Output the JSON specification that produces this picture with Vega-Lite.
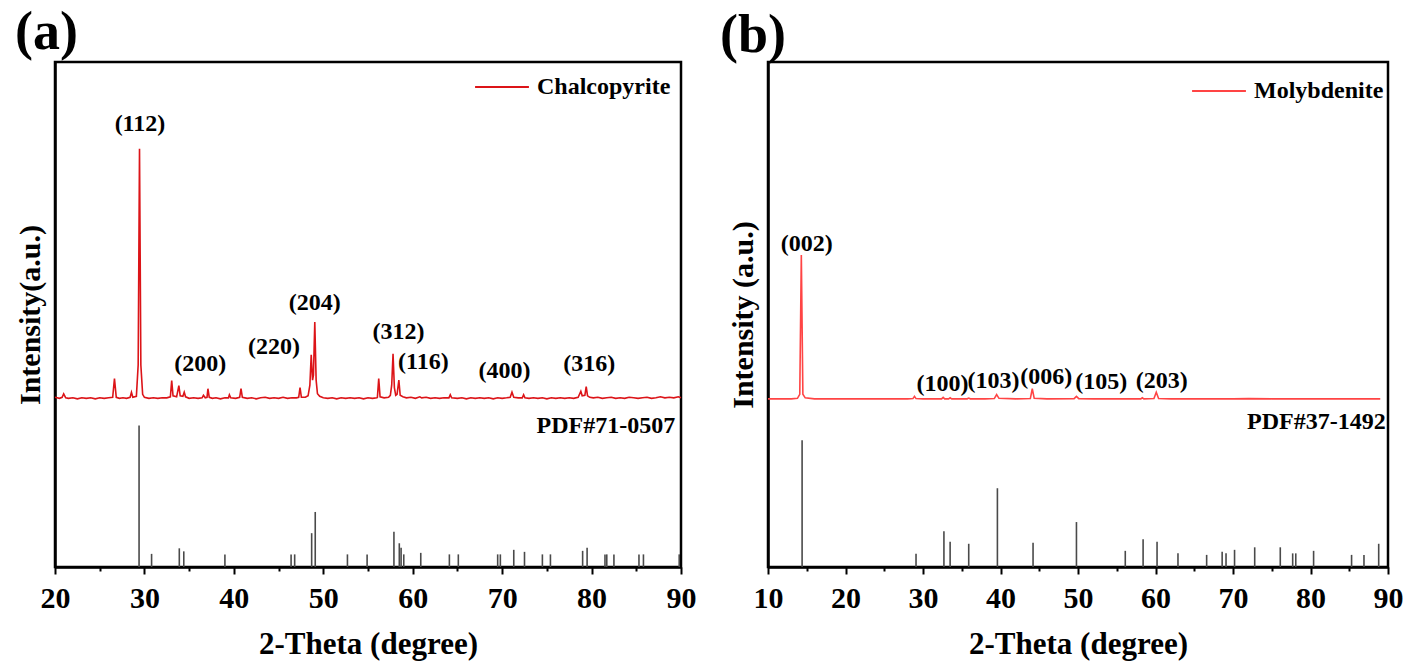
{
  "$schema": "https://vega.github.io/schema/vega-lite/v6.json",
  "padding": {"left": 13, "top": 4, "right": 0, "bottom": 0},
  "datasets": {
    "xrdA": [
      {"t":20.0,"i":33.6},{"t":20.5,"i":33.4},{"t":20.8,"i":33.6},{"t":20.97,"i":34.3},{"t":21.2,"i":33.5},{"t":21.5,"i":33.4},
      {"t":22.0,"i":33.5},{"t":22.5,"i":33.3},{"t":23.0,"i":33.5},{"t":23.5,"i":33.4},{"t":24.0,"i":33.5},{"t":24.5,"i":33.3},
      {"t":25.0,"i":33.5},{"t":25.5,"i":33.4},{"t":26.0,"i":33.5},{"t":26.45,"i":33.6},{"t":26.65,"i":37.3},{"t":26.85,"i":33.6},
      {"t":27.2,"i":33.4},{"t":27.6,"i":33.5},{"t":28.0,"i":33.4},{"t":28.4,"i":33.6},{"t":28.55,"i":34.6},{"t":28.7,"i":33.6},
      {"t":29.1,"i":33.8},{"t":29.3,"i":40.0},{"t":29.45,"i":82.8},{"t":29.6,"i":40.0},{"t":29.8,"i":34.2},{"t":30.0,"i":33.6},
      {"t":30.5,"i":33.4},{"t":31.0,"i":33.5},{"t":31.5,"i":33.4},{"t":32.0,"i":33.5},{"t":32.5,"i":33.5},{"t":32.9,"i":33.7},
      {"t":33.05,"i":36.9},{"t":33.2,"i":33.9},{"t":33.6,"i":33.7},{"t":33.85,"i":35.9},{"t":34.0,"i":33.9},{"t":34.3,"i":33.8},
      {"t":34.45,"i":34.6},{"t":34.6,"i":33.7},{"t":35.0,"i":33.4},{"t":35.5,"i":33.5},{"t":36.0,"i":33.4},{"t":36.45,"i":33.5},
      {"t":36.6,"i":34.0},{"t":36.8,"i":33.5},{"t":37.0,"i":33.6},{"t":37.1,"i":35.3},{"t":37.25,"i":33.6},{"t":37.6,"i":33.4},
      {"t":38.0,"i":33.5},{"t":38.5,"i":33.3},{"t":39.0,"i":33.5},{"t":39.4,"i":33.5},{"t":39.5,"i":34.1},{"t":39.65,"i":33.5},
      {"t":40.2,"i":33.4},{"t":40.65,"i":33.6},{"t":40.8,"i":35.3},{"t":40.95,"i":33.6},{"t":41.5,"i":33.4},{"t":42.0,"i":33.5},
      {"t":42.5,"i":33.3},{"t":43.0,"i":33.5},{"t":43.5,"i":33.6},{"t":44.0,"i":33.4},{"t":44.5,"i":33.5},{"t":45.0,"i":33.4},
      {"t":45.5,"i":33.6},{"t":46.0,"i":33.4},{"t":46.5,"i":33.5},{"t":47.0,"i":33.5},{"t":47.25,"i":33.6},{"t":47.4,"i":35.5},
      {"t":47.55,"i":33.6},{"t":48.0,"i":33.6},{"t":48.3,"i":33.9},{"t":48.5,"i":36.0},{"t":48.65,"i":42.0},{"t":48.8,"i":37.0},
      {"t":48.9,"i":38.0},{"t":49.05,"i":48.5},{"t":49.2,"i":37.0},{"t":49.35,"i":34.3},{"t":49.6,"i":33.8},{"t":50.0,"i":33.5},
      {"t":50.5,"i":33.4},{"t":51.0,"i":33.5},{"t":51.5,"i":33.3},{"t":52.0,"i":33.5},{"t":52.5,"i":33.4},{"t":53.0,"i":33.5},
      {"t":53.5,"i":33.4},{"t":54.0,"i":33.5},{"t":54.5,"i":33.3},{"t":55.0,"i":33.5},{"t":55.5,"i":33.4},{"t":56.0,"i":33.5},
      {"t":56.05,"i":33.6},{"t":56.2,"i":37.3},{"t":56.35,"i":33.7},{"t":56.8,"i":33.5},{"t":57.3,"i":33.6},{"t":57.5,"i":34.0},
      {"t":57.65,"i":36.0},{"t":57.8,"i":42.2},{"t":57.95,"i":35.5},{"t":58.1,"i":34.0},{"t":58.25,"i":34.2},{"t":58.45,"i":37.0},
      {"t":58.6,"i":34.0},{"t":58.9,"i":33.7},{"t":59.3,"i":33.5},{"t":59.8,"i":33.6},{"t":60.3,"i":33.4},{"t":60.8,"i":33.7},
      {"t":61.0,"i":33.5},{"t":61.5,"i":33.6},{"t":62.0,"i":33.4},{"t":62.5,"i":33.5},{"t":63.0,"i":33.4},{"t":63.5,"i":33.5},
      {"t":64.05,"i":33.5},{"t":64.2,"i":34.1},{"t":64.35,"i":33.5},{"t":65.0,"i":33.4},{"t":65.5,"i":33.5},{"t":66.0,"i":33.3},
      {"t":66.5,"i":33.5},{"t":67.0,"i":33.4},{"t":67.5,"i":33.5},{"t":68.0,"i":33.4},{"t":68.5,"i":33.5},{"t":69.0,"i":33.3},
      {"t":69.5,"i":33.5},{"t":70.0,"i":33.4},{"t":70.5,"i":33.5},{"t":70.9,"i":33.6},{"t":71.1,"i":34.6},{"t":71.3,"i":33.6},
      {"t":71.8,"i":33.5},{"t":72.25,"i":33.5},{"t":72.4,"i":34.1},{"t":72.55,"i":33.5},{"t":73.0,"i":33.4},{"t":73.5,"i":33.5},
      {"t":74.0,"i":33.4},{"t":74.5,"i":33.5},{"t":75.0,"i":33.3},{"t":75.5,"i":33.5},{"t":76.0,"i":33.4},{"t":76.5,"i":33.5},
      {"t":77.0,"i":33.4},{"t":77.5,"i":33.5},{"t":78.0,"i":33.4},{"t":78.5,"i":33.6},{"t":78.8,"i":34.8},{"t":78.95,"i":33.9},
      {"t":79.25,"i":34.0},{"t":79.4,"i":35.7},{"t":79.55,"i":33.9},{"t":79.8,"i":33.6},{"t":80.2,"i":33.5},{"t":80.7,"i":33.6},
      {"t":81.2,"i":33.4},{"t":81.7,"i":33.5},{"t":82.2,"i":33.6},{"t":82.7,"i":33.4},{"t":83.2,"i":33.5},{"t":83.7,"i":33.4},
      {"t":84.2,"i":33.6},{"t":84.7,"i":33.5},{"t":85.2,"i":33.4},{"t":85.7,"i":33.5},{"t":86.2,"i":33.6},{"t":86.7,"i":33.4},
      {"t":87.2,"i":33.5},{"t":87.7,"i":33.7},{"t":88.2,"i":33.5},{"t":88.7,"i":33.6},{"t":89.2,"i":33.5},{"t":89.7,"i":33.7},
      {"t":90.0,"i":33.5}
    ],
    "refA": [
      {"t":29.4,"h":28.0},{"t":30.8,"h":2.6},{"t":33.9,"h":3.7},{"t":34.4,"h":3.1},{"t":39.0,"h":2.5},{"t":46.4,"h":2.5},
      {"t":46.8,"h":2.5},{"t":48.7,"h":6.7},{"t":49.1,"h":10.9},{"t":52.7,"h":2.5},{"t":54.9,"h":2.5},{"t":57.9,"h":7.0},
      {"t":58.5,"h":4.7},{"t":58.7,"h":3.8},{"t":59.0,"h":2.5},{"t":60.9,"h":2.8},{"t":64.1,"h":2.5},{"t":65.1,"h":2.5},
      {"t":69.5,"h":2.5},{"t":69.8,"h":2.5},{"t":71.3,"h":3.4},{"t":72.5,"h":3.0},{"t":74.5,"h":2.5},{"t":75.4,"h":2.5},
      {"t":79.0,"h":3.2},{"t":79.5,"h":3.8},{"t":81.5,"h":2.5},{"t":81.7,"h":2.5},{"t":82.5,"h":2.5},{"t":85.3,"h":2.5},
      {"t":85.8,"h":2.5},{"t":89.8,"h":2.5}
    ],
    "labA": [
      {"t":29.5,"i":87.7,"label":"(112)"},{"t":36.25,"i":40.2,"label":"(200)"},{"t":44.5,"i":43.6,"label":"(220)"},
      {"t":49.05,"i":52.3,"label":"(204)"},{"t":58.4,"i":46.5,"label":"(312)"},{"t":61.2,"i":40.5,"label":"(116)"},
      {"t":70.25,"i":38.8,"label":"(400)"},{"t":79.75,"i":40.2,"label":"(316)"}
    ],
    "pdfA": [{"t":89.35,"i":27.9,"label":"PDF#71-0507"}],
    "xrdB": [
      {"t":10,"i":33.3},{"t":11,"i":33.3},{"t":12,"i":33.3},{"t":13,"i":33.3},{"t":13.8,"i":33.4},{"t":14.1,"i":34.2},
      {"t":14.3,"i":61.8},{"t":14.5,"i":34.2},{"t":14.8,"i":33.5},{"t":16,"i":33.3},{"t":18,"i":33.3},{"t":20,"i":33.3},
      {"t":22,"i":33.3},{"t":24,"i":33.3},{"t":26,"i":33.3},{"t":28,"i":33.3},{"t":28.7,"i":33.35},{"t":28.9,"i":33.8},
      {"t":29.1,"i":33.35},{"t":30,"i":33.3},{"t":32.4,"i":33.3},{"t":32.6,"i":33.6},{"t":32.8,"i":33.3},{"t":33.3,"i":33.3},
      {"t":33.5,"i":33.5},{"t":33.7,"i":33.3},{"t":35.7,"i":33.3},{"t":35.9,"i":33.45},{"t":36.1,"i":33.3},{"t":38,"i":33.3},
      {"t":39.2,"i":33.35},{"t":39.5,"i":34.15},{"t":39.8,"i":33.4},{"t":42,"i":33.3},{"t":43.85,"i":33.35},{"t":44.1,"i":35.3},
      {"t":44.35,"i":33.4},{"t":46,"i":33.3},{"t":49.5,"i":33.35},{"t":49.8,"i":33.8},{"t":50.1,"i":33.35},{"t":52,"i":33.3},
      {"t":55,"i":33.3},{"t":58.1,"i":33.3},{"t":58.3,"i":33.5},{"t":58.5,"i":33.3},{"t":59.8,"i":33.35},{"t":60.1,"i":34.6},
      {"t":60.4,"i":33.35},{"t":62,"i":33.3},{"t":65,"i":33.3},{"t":70,"i":33.3},{"t":72,"i":33.35},{"t":75,"i":33.3},
      {"t":80,"i":33.3},{"t":85,"i":33.3},{"t":89,"i":33.3}
    ],
    "refB": [
      {"t":14.4,"h":25.1},{"t":29.1,"h":2.6},{"t":32.7,"h":7.1},{"t":33.5,"h":5.0},{"t":35.9,"h":4.6},{"t":39.6,"h":15.6},
      {"t":44.2,"h":4.8},{"t":49.8,"h":8.9},{"t":56.1,"h":3.2},{"t":58.4,"h":5.5},{"t":60.2,"h":5.0},{"t":62.9,"h":2.7},
      {"t":66.6,"h":2.4},{"t":68.6,"h":3.0},{"t":69.1,"h":2.7},{"t":70.2,"h":3.4},{"t":72.8,"h":3.9},{"t":76.1,"h":3.9},
      {"t":77.7,"h":2.7},{"t":78.1,"h":2.7},{"t":80.4,"h":3.2},{"t":85.3,"h":2.4},{"t":86.9,"h":2.4},{"t":88.8,"h":4.6}
    ],
    "labB": [
      {"t":15.0,"i":64.0,"label":"(002)"},{"t":32.5,"i":36.2,"label":"(100)"},{"t":39.1,"i":36.8,"label":"(103)"},
      {"t":45.9,"i":37.6,"label":"(006)"},{"t":53.0,"i":36.6,"label":"(105)"},{"t":60.8,"i":36.8,"label":"(203)"}
    ],
    "pdfB": [{"t":89.7,"i":28.8,"label":"PDF#37-1492"}]
  },
  "hconcat": [
    {
      "width": 626,
      "height": 505,
      "title": {"text": "(a)", "fontSize": 54, "anchor": "start", "frame": "group", "dx": -40, "offset": -44, "baseline": "alphabetic"},
      "encoding": {
        "x": {"field": "t", "type": "quantitative", "title": "2-Theta (degree)",
          "scale": {"domain": [20, 90], "nice": false, "zero": false},
          "axis": {"values": [20,25,30,35,40,45,50,55,60,65,70,75,80,85,90],
            "labelExpr": "datum.value % 10 === 0 ? datum.label : ''",
            "tickSize": {"condition": {"test": "datum.value % 10 === 0", "value": 7}, "value": 4}}},
        "y": {"type": "quantitative", "title": "Intensity(a.u.)",
          "scale": {"domain": [0, 100], "nice": false},
          "axis": {"labels": false, "ticks": false}}
      },
      "layer": [
        {"data": {"name": "refA"}, "mark": {"type": "rule", "color": "#4a4a4a", "strokeWidth": 1.6},
          "encoding": {"y": {"field": "h", "type": "quantitative"}, "y2": {"datum": 0}}},
        {"data": {"name": "xrdA"}, "mark": {"type": "line", "strokeWidth": 1.6},
          "encoding": {"y": {"field": "i", "type": "quantitative"},
            "color": {"datum": "Chalcopyrite", "scale": {"range": ["#dc1418"]},
              "legend": {"orient": "none", "legendX": 419, "legendY": -3, "title": null}}}},
        {"data": {"name": "labA"}, "mark": {"type": "text", "align": "center", "baseline": "middle"},
          "encoding": {"y": {"field": "i", "type": "quantitative"}, "text": {"field": "label"}}},
        {"data": {"name": "pdfA"}, "mark": {"type": "text", "align": "right", "baseline": "middle"},
          "encoding": {"y": {"field": "i", "type": "quantitative"}, "text": {"field": "label"}}}
      ]
    },
    {
      "width": 620,
      "height": 505,
      "title": {"text": "(b)", "fontSize": 54, "anchor": "start", "frame": "group", "dx": -48, "offset": -44, "baseline": "alphabetic"},
      "encoding": {
        "x": {"field": "t", "type": "quantitative", "title": "2-Theta (degree)",
          "scale": {"domain": [10, 90], "nice": false, "zero": false},
          "axis": {"values": [10,15,20,25,30,35,40,45,50,55,60,65,70,75,80,85,90],
            "labelExpr": "datum.value % 10 === 0 ? datum.label : ''",
            "tickSize": {"condition": {"test": "datum.value % 10 === 0", "value": 7}, "value": 4}}},
        "y": {"type": "quantitative", "title": "Intensity (a.u.)",
          "scale": {"domain": [0, 100], "nice": false},
          "axis": {"labels": false, "ticks": false}}
      },
      "layer": [
        {"data": {"name": "refB"}, "mark": {"type": "rule", "color": "#4a4a4a", "strokeWidth": 1.6},
          "encoding": {"y": {"field": "h", "type": "quantitative"}, "y2": {"datum": 0}}},
        {"data": {"name": "xrdB"}, "mark": {"type": "line", "strokeWidth": 1.6},
          "encoding": {"y": {"field": "i", "type": "quantitative"},
            "color": {"datum": "Molybdenite", "scale": {"range": ["#ff4444"]},
              "legend": {"orient": "none", "legendX": 423, "legendY": 1, "title": null}}}},
        {"data": {"name": "labB"}, "mark": {"type": "text", "align": "center", "baseline": "middle"},
          "encoding": {"y": {"field": "i", "type": "quantitative"}, "text": {"field": "label"}}},
        {"data": {"name": "pdfB"}, "mark": {"type": "text", "align": "right", "baseline": "middle"},
          "encoding": {"y": {"field": "i", "type": "quantitative"}, "text": {"field": "label"}}}
      ]
    }
  ],
  "spacing": 87,
  "bounds": "flush",
  "resolve": {"scale": {"color": "independent"}},
  "config": {
    "font": "Liberation Serif",
    "view": {"stroke": "black", "strokeWidth": 2.5},
    "title": {"font": "Liberation Serif", "fontWeight": "bold", "color": "black"},
    "axis": {"labelFont": "Liberation Serif", "labelFontWeight": "bold", "labelFontSize": 30, "labelColor": "black",
      "titleFont": "Liberation Serif", "titleFontWeight": "bold", "titleFontSize": 31, "titleColor": "black",
      "domainColor": "black", "domainWidth": 2.5, "tickColor": "black", "tickWidth": 2, "grid": false,
      "labelPadding": 9, "labelFlush": false},
    "axisX": {"titlePadding": 16},
    "axisY": {"titlePadding": 10, "titleFontSize": 30},
    "legend": {"symbolType": "stroke", "symbolSize": 2900, "symbolStrokeWidth": 2, "labelFont": "Liberation Serif",
      "labelFontWeight": "bold", "labelFontSize": 24, "labelColor": "black", "labelOffset": 7, "padding": 0},
    "text": {"font": "Liberation Serif", "fontWeight": "bold", "fontSize": 24, "color": "black"}
  }
}
